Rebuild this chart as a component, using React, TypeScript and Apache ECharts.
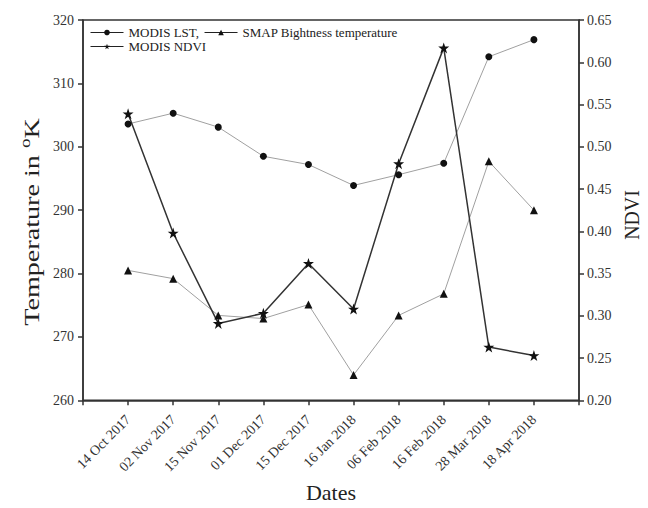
import React, { useEffect, useRef } from "react";
import * as echarts from "echarts";

const dates = [
  "14 Oct 2017", "02 Nov 2017", "15 Nov 2017", "01 Dec 2017", "15 Dec 2017",
  "16 Jan 2018", "06 Feb 2018", "16 Feb 2018", "28 Mar 2018", "18 Apr 2018",
];
const modisLst = [303.6, 305.3, 303.1, 298.5, 297.2, 293.9, 295.6, 297.4, 314.2, 316.9];
const smapTb = [280.5, 279.2, 273.4, 272.9, 275.1, 264.0, 273.4, 276.8, 297.7, 290.0];
const modisNdvi = [0.539, 0.398, 0.291, 0.303, 0.362, 0.308, 0.480, 0.617, 0.263, 0.253];

const FONT = "Liberation Serif";
const STAR = "path://M12,0 L14.9,8.6 L24,8.6 L16.6,14 L19.4,22.8 L12,17.4 L4.6,22.8 L7.4,14 L0,8.6 L9.1,8.6 Z";

export default function App() {
  const ref = useRef<HTMLDivElement>(null);
  useEffect(() => {
    if (!ref.current) return;
    const chart = echarts.init(ref.current, undefined, { renderer: "svg" });
    const toXY = (arr: number[]) => arr.map((v, i) => [i + 1, v]);
    const axisCommon = {
      axisLine: { show: true, lineStyle: { color: "#333", width: 1.5 } },
      axisTick: { show: true, inside: false, length: 5, lineStyle: { color: "#333", width: 1.5 } },
      splitLine: { show: false },
    };
    const legendCommon = {
      left: 90, padding: 0, orient: "horizontal",
      itemWidth: 33, itemHeight: 7, itemGap: 5,
      lineStyle: { color: "#222", width: 1 },
      textStyle: { fontFamily: FONT, fontSize: 13, color: "#222" },
    };
    chart.setOption({
      animation: false,
      backgroundColor: "#fff",
      textStyle: { fontFamily: FONT },
      grid: {
        left: 83, right: 69, top: 20, bottom: 103,
        show: true, borderColor: "#333", borderWidth: 1.5,
      },
      legend: [
        { ...legendCommon, top: 26, data: ["MODIS LST,", "SMAP Bightness temperature"] },
        { ...legendCommon, top: 40, data: ["MODIS NDVI"] },
      ],
      graphic: [
        {
          type: "text", x: 31, y: 222, rotation: Math.PI / 2, scaleX: 1.28,
          style: {
            text: "Temperature in {sup|o}K",
            fontFamily: FONT, fontSize: 22, fill: "#222",
            align: "center", verticalAlign: "middle",
            rich: {
              sup: { fontFamily: FONT, fontSize: 15, fill: "#222", padding: [0, 0, 12, 0] },
            },
          },
        },
        {
          type: "text", x: 632, y: 215, rotation: Math.PI / 2, scaleX: 0.9,
          style: {
            text: "NDVI", fontFamily: FONT, fontSize: 22, fill: "#222",
            align: "center", verticalAlign: "middle",
          },
        },
      ],
      xAxis: {
        type: "value", min: 0, max: 11, interval: 1,
        ...axisCommon,
        axisLabel: {
          rotate: 45, fontFamily: FONT, fontSize: 14, color: "#333", margin: 17,
          formatter: (v: number) => dates[v - 1] ?? "",
        },
        name: "Dates", nameLocation: "middle", nameGap: 67,
        nameTextStyle: { fontFamily: FONT, fontSize: 22, color: "#222" },
      },
      yAxis: [
        {
          type: "value", min: 260, max: 320, interval: 10, position: "left",
          ...axisCommon,
          axisLabel: { fontFamily: FONT, fontSize: 14, color: "#333", margin: 9 },
        },
        {
          type: "value", min: 0.2, max: 0.65, interval: 0.05, position: "right",
          ...axisCommon,
          axisLabel: {
            fontFamily: FONT, fontSize: 14, color: "#333", margin: 8,
            formatter: (v: number) => v.toFixed(2),
          },
        },
      ],
      series: [
        {
          name: "MODIS LST,", type: "line", yAxisIndex: 0, data: toXY(modisLst),
          symbol: "circle", symbolSize: 7,
          lineStyle: { color: "#a0a0a0", width: 1 },
          itemStyle: { color: "#111" },
        },
        {
          name: "SMAP Bightness temperature", type: "line", yAxisIndex: 0, data: toXY(smapTb),
          symbol: "triangle", symbolSize: 8,
          lineStyle: { color: "#a0a0a0", width: 1 },
          itemStyle: { color: "#111" },
        },
        {
          name: "MODIS NDVI", type: "line", yAxisIndex: 1, data: toXY(modisNdvi),
          symbol: STAR, symbolSize: 11,
          lineStyle: { color: "#333", width: 1.5 },
          itemStyle: { color: "#111" },
        },
      ],
    });
    return () => chart.dispose();
  }, []);
  return <div ref={ref} style={{ width: 648, height: 508, position: "absolute", left: 0, top: 0 }} />;
}
